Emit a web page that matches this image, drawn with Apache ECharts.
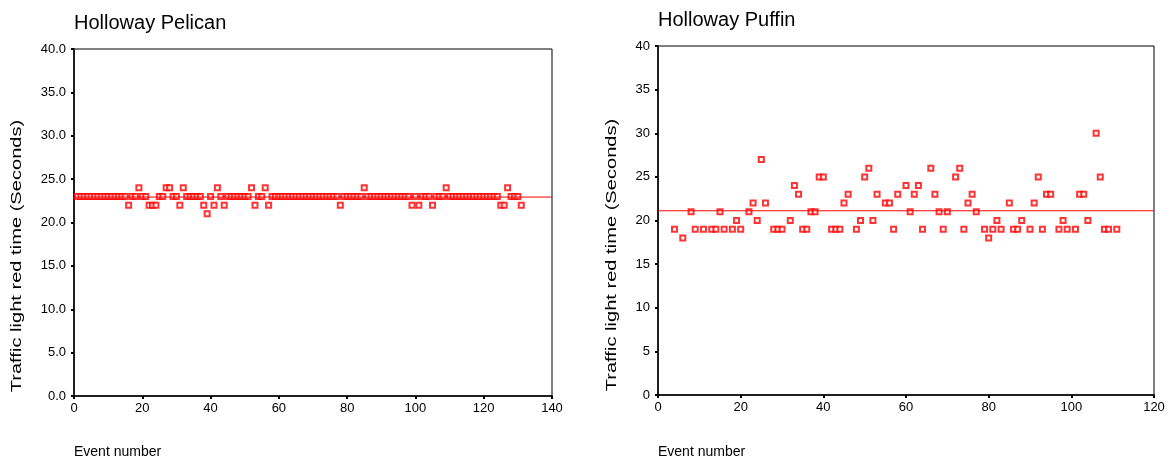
<!DOCTYPE html>
<html>
<head>
<meta charset="utf-8">
<script src="https://cdn.jsdelivr.net/npm/echarts@6/dist/echarts.min.js"></script>
<style>
  html, body { margin: 0; padding: 0; background: #fff; }
  #chart { width: 1174px; height: 462px; }
</style>
</head>
<body>
<div id="chart"></div>
<script>
// Holloway Pelican: event 1..131, mostly 23 s
const pelicanEvents = [];
for (let i = 1; i <= 131; i++) pelicanEvents.push(i);
const pelican24 = [19, 27, 28, 32, 42, 52, 56, 85, 109, 127];
const pelican22 = [16, 22, 23, 24, 31, 38, 41, 44, 53, 57, 78, 99, 101, 105, 125, 126, 131];
const pelican21 = [39];
const pelicanValues = pelicanEvents.map(e =>
  pelican24.includes(e) ? 24 : pelican22.includes(e) ? 22 : pelican21.includes(e) ? 21 : 23);

// Holloway Puffin
const puffinEvents = [4, 6, 8, 9, 11, 13, 14, 15, 16, 18, 19, 20, 22, 23, 24, 25, 26, 28, 29, 30,
  32, 33, 34, 35, 36, 37, 38, 39, 40, 42, 43, 44, 45, 46, 48, 49, 50, 51, 52, 53,
  55, 56, 57, 58, 60, 61, 62, 63, 64, 66, 67, 68, 69, 70, 72, 73, 74, 75, 76, 77,
  79, 80, 81, 82, 83, 85, 86, 87, 88, 90, 91, 92, 93, 94, 95, 97, 98, 99, 101, 102,
  103, 104, 106, 107, 108, 109, 111];
const puffinValues = [19, 18, 21, 19, 19, 19, 19, 21, 19, 19, 20, 19, 21, 22, 20, 27, 22, 19, 19, 19,
  20, 24, 23, 19, 19, 21, 21, 25, 25, 19, 19, 19, 22, 23, 19, 20, 25, 26, 20, 23,
  22, 22, 19, 23, 24, 21, 23, 24, 19, 26, 23, 21, 19, 21, 25, 26, 19, 22, 23, 21,
  19, 18, 19, 20, 19, 22, 19, 19, 20, 19, 22, 25, 19, 23, 23, 19, 20, 19, 19, 23,
  23, 20, 30, 25, 19, 19, 19];

const pelicanTicks = [0, 140, 20];
const puffinTicks = [0, 120, 20];

const FONT = 'Liberation Sans, Arial, sans-serif';
const RED = '#ff0000';

function mean(arr) {
  return arr.reduce((s, v) => s + v, 0) / arr.length;
}

function xAxisFor(idx, ticks) {
  return {
    gridIndex: idx, type: 'value', min: ticks[0], max: ticks[1], interval: ticks[2],
    axisLine: { show: true, onZero: false, lineStyle: { color: '#000', width: 1.5 } },
    axisTick: { show: true, length: 3, lineStyle: { color: '#000', width: 2 } },
    axisLabel: { color: '#000', fontSize: 13, fontFamily: FONT, margin: 6 },
    splitLine: { show: false }
  };
}
function yAxisFor(idx, decimals) {
  return {
    gridIndex: idx, type: 'value', min: 0, max: 40, interval: 5,
    axisLine: { show: true, onZero: false, lineStyle: { color: '#000', width: 1.5 } },
    axisTick: { show: true, length: 3, lineStyle: { color: '#000', width: 2 } },
    axisLabel: { color: '#000', fontSize: 13, fontFamily: FONT, margin: 8,
      formatter: v => v.toFixed(decimals) },
    splitLine: { show: false }
  };
}
function scatterFor(idx, events, values) {
  return {
    type: 'scatter', xAxisIndex: idx, yAxisIndex: idx, z: 2,
    data: events.map((e, i) => [e, values[i]]),
    symbol: 'emptyRect', symbolSize: 5,
    itemStyle: { color: RED, borderColor: RED, borderWidth: 1 }
  };
}
// mean line across the full x range
function meanLineFor(idx, ticks, values) {
  const m = mean(values);
  return {
    type: 'line', xAxisIndex: idx, yAxisIndex: idx, z: 3,
    data: [[ticks[0], m], [ticks[1], m]],
    symbol: 'none', silent: true,
    lineStyle: { color: RED, width: 1, type: 'solid' }
  };
}

const myChart = echarts.init(document.getElementById('chart'));
myChart.setOption({
  animation: false,
  backgroundColor: '#fff',
  title: [
    { text: 'Holloway Pelican', left: 74, top: 13, padding: 0,
      textStyle: { fontSize: 20, fontWeight: 'normal', color: '#000', fontFamily: FONT } },
    { text: 'Holloway Puffin', left: 658, top: 10, padding: 0,
      textStyle: { fontSize: 20, fontWeight: 'normal', color: '#000', fontFamily: FONT } }
  ],
  grid: [
    { left: 74, right: 622, top: 49, bottom: 66, show: true, borderColor: '#000', borderWidth: 1 },
    { left: 658, right: 20, top: 46, bottom: 67, show: true, borderColor: '#000', borderWidth: 1 }
  ],
  xAxis: [xAxisFor(0, pelicanTicks), xAxisFor(1, puffinTicks)],
  yAxis: [yAxisFor(0, 1), yAxisFor(1, 0)],
  series: [
    scatterFor(0, pelicanEvents, pelicanValues),
    meanLineFor(0, pelicanTicks, pelicanValues),
    scatterFor(1, puffinEvents, puffinValues),
    meanLineFor(1, puffinTicks, puffinValues)
  ],
  graphic: [
    { type: 'text', x: 17, y: 256, rotation: Math.PI / 2, scaleX: 1.34,
      style: { text: 'Traffic light red time (Seconds)', font: '15px ' + FONT, fill: '#000',
        textAlign: 'center', textVerticalAlign: 'middle' } },
    { type: 'text', x: 612, y: 255, rotation: Math.PI / 2, scaleX: 1.34,
      style: { text: 'Traffic light red time (Seconds)', font: '15px ' + FONT, fill: '#000',
        textAlign: 'center', textVerticalAlign: 'middle' } },
    { type: 'text', x: 74, y: 452,
      style: { text: 'Event number', font: '14px ' + FONT, fill: '#000',
        textAlign: 'left', textVerticalAlign: 'middle' } },
    { type: 'text', x: 658, y: 452,
      style: { text: 'Event number', font: '14px ' + FONT, fill: '#000',
        textAlign: 'left', textVerticalAlign: 'middle' } }
  ]
});
</script>
</body>
</html>
